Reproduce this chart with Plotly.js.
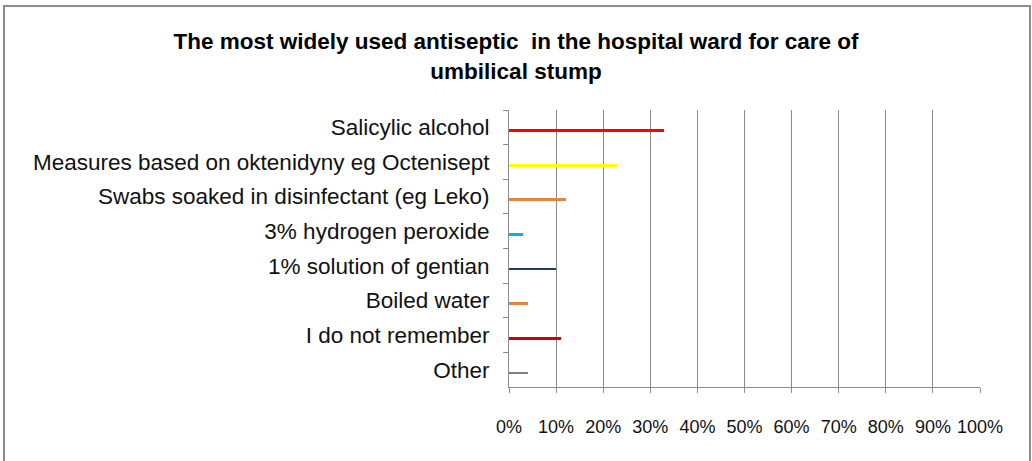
<!DOCTYPE html>
<html>
<head>
<meta charset="utf-8">
<script src="https://cdn.plot.ly/plotly-3.0.1.min.js"></script>
<style>
  html, body { margin: 0; padding: 0; background: #fff; }
  #wrap { position: relative; width: 1032px; height: 461px; overflow: hidden; }
  #chart { width: 1032px; height: 461px; }
  #frame { position: absolute; left: 3px; top: 5px; width: 1024px; height: 470px;
           border: 2px solid #8c8c8c; pointer-events: none; }
</style>
</head>
<body>
<div id="wrap">
  <div id="chart"></div>
  <div id="frame"></div>
</div>
<script>
const categories = [
  "Salicylic alcohol",
  "Measures based on oktenidyny eg Octenisept",
  "Swabs soaked in disinfectant (eg Leko)",
  "3% hydrogen peroxide",
  "1% solution of gentian",
  "Boiled water",
  "I do not remember",
  "Other"
];
const shares = [0.33, 0.23, 0.12, 0.03, 0.10, 0.04, 0.11, 0.04];
const barColors = ["#ff0000", "#ffff00", "#e3843f", "#00b0f0", "#1f3a70", "#e3843f", "#d00000", "#808080"];
const xTickValues = [0, 0.1, 0.2, 0.3, 0.4, 0.5, 0.6, 0.7, 0.8, 0.9, 1.0];

const trace = {
  type: "bar",
  orientation: "h",
  y: categories,
  x: shares,
  width: 0.08,
  offset: 0.055,
  marker: { color: barColors, line: { width: 0 } },
  hoverinfo: "x+y"
};

const layout = {
  width: 1032,
  height: 461,
  margin: { l: 509, r: 52, t: 110, b: 74 },
  paper_bgcolor: "#ffffff",
  plot_bgcolor: "#ffffff",
  showlegend: false,
  bargap: 0,
  title: {
    text: "<b>The most widely used antiseptic  in the hospital ward for care of<br>umbilical stump</b>",
    font: { family: "Liberation Sans Narrow, Arial Narrow, Liberation Sans, Arial", size: 22.5, color: "#000" },
    x: 0.5, xanchor: "center", xref: "container",
    y: 0.893, yanchor: "middle", yref: "container"
  },
  xaxis: {
    range: [0, 1],
    tickvals: xTickValues,
    tickformat: ".0%",
    showgrid: true,
    gridcolor: "#8c8c8c",
    gridwidth: 1,
    zeroline: false,
    showline: true,
    linecolor: "#8c8c8c",
    linewidth: 1,
    ticks: "outside",
    ticklen: 5,
    tickcolor: "#8c8c8c",
    ticklabelstandoff: 18,
    tickfont: { family: "Liberation Sans, Arial", size: 18, color: "#111" },
    fixedrange: true
  },
  yaxis: {
    type: "category",
    autorange: "reversed",
    tickson: "boundaries",
    showgrid: false,
    showline: true,
    linecolor: "#8c8c8c",
    linewidth: 1,
    ticks: "outside",
    ticklen: 5,
    tickcolor: "#8c8c8c",
    ticklabelstandoff: 14,
    tickfont: { family: "Liberation Sans, Arial", size: 22.5, color: "#111" },
    fixedrange: true
  }
};

Plotly.newPlot("chart", [trace], layout, { displayModeBar: false, staticPlot: true });
</script>
</body>
</html>
